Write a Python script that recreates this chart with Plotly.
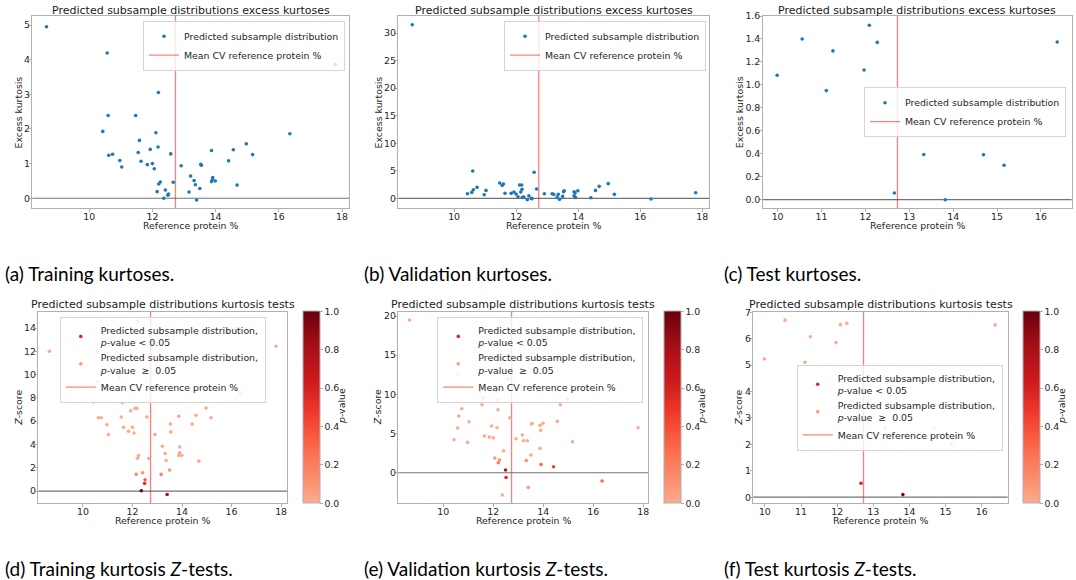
import math
import plotly.graph_objects as go

# ---------------- data ----------------
ref_x = [8.65, 10.43, 10.57, 10.60, 10.62, 10.74, 10.97, 11.03, 11.47, 11.55, 11.59, 11.64,
         11.84, 11.93, 12.00, 12.06, 12.11, 12.15, 12.18, 12.19, 12.20, 12.25, 12.36, 12.41,
         12.49, 12.51, 12.58, 12.66, 12.91, 13.16, 13.21, 13.32, 13.36, 13.40, 13.50, 13.53,
         13.55, 13.87, 13.87, 13.90, 13.91, 13.99, 14.41, 14.56, 14.68, 14.97, 15.17, 16.35, 17.79]

train_kurt = [4.95, 1.93, 4.19, 2.39, 1.24, 1.27, 1.09, 0.90, 2.39, 1.32, 1.67, 1.07,
              0.97, 1.41, 1.00, 0.85, 1.89, 0.19, 1.48, 3.05, 0.41, 0.47, 0.00, 0.24,
              0.09, 0.12, 1.28, 0.46, 0.94, 0.18, 0.64, 0.51, 0.39, -0.05, 0.28, 0.98,
              0.95, 1.38, 0.48, 0.54, 0.60, 0.50, 1.08, 1.40, 0.38, 1.57, 1.26, 1.86, 3.86]

train_z = [12.0, 7.64, 11.95, 9.38, 6.30, 6.30, 5.70, 4.85, 9.75, 6.36, 7.59, 5.48,
           5.13, 6.90, 5.48, 4.99, 7.10, 1.45, 7.10, 14.57, 2.82, 3.05, 0.03, 1.57,
           0.66, 0.97, 6.36, 2.80, 4.85, 1.43, 3.85, 3.22, 2.62, -0.29, 1.80, 5.76,
           5.08, 6.42, 3.05, 3.28, 3.79, 3.08, 5.76, 6.50, 2.57, 7.13, 6.30, 8.44, 12.44]

val_kurt = [31.5, 0.85, 1.09, 4.97, 1.58, 2.00, 0.67, 1.45, 2.79, 2.36, 2.60, 0.91,
            0.91, 1.15, 0.79, 0.30, 2.42, 1.15, 2.42, 1.64, 0.18, 0.24, -0.24, 0.48,
            0.00, -0.06, 4.73, 1.70, 0.85, 0.85, 0.73, 0.24, 0.73, -0.18, 0.36, 1.21,
            1.39, 1.21, 0.48, 0.97, 0.18, 1.39, 0.12, 1.45, 2.18, 2.67, 0.73, -0.12, 1.03]

val_z = [19.5, 4.21, 5.70, 12.5, 7.23, 8.17, 3.87, 6.51, 10.3, 8.68, 9.53, 4.68,
         4.55, 5.96, 4.47, 1.87, 10.38, 5.74, 9.28, 8.04, 1.28, 1.62, -2.85, 2.81,
         0.34, -0.60, 12.0, 7.02, 4.34, 4.81, 4.09, 1.57, 4.09, -1.87, 2.26, 6.21,
         6.30, 6.04, 3.11, 5.40, 1.06, 6.30, 0.77, 6.55, 8.68, 9.36, 3.96, -1.06, 5.74]

test_x = [9.99, 10.56, 11.11, 11.26, 11.97, 12.09, 12.27, 12.66, 13.33, 13.82, 14.69, 15.16, 16.37]
test_kurt = [1.084, 1.40, 0.95, 1.296, 1.13, 1.52, 1.37, 0.058, 0.394, 0.0, 0.391, 0.30, 1.374]
test_z = [5.23, 6.70, 5.11, 6.07, 5.85, 6.53, 6.58, 0.53, 2.6, 0.10, 2.6, 2.03, 6.52]

mean_cv_ref = 12.73

top_title = "Predicted subsample distributions excess kurtoses"
bot_title = "Predicted subsample distributions kurtosis tests"
x_label = "Reference protein %"
y_labels = ["Excess kurtosis"] * 3 + ["<i>Z</i>-score"] * 3
captions_top = ["(a) Training kurtoses.", "(b) Validation kurtoses.", "(c) Test kurtoses."]
captions_bot = ["(d) Training kurtosis <i>Z</i>-tests.", "(e) Validation kurtosis <i>Z</i>-tests.",
                "(f) Test kurtosis <i>Z</i>-tests."]


def pvals(zs):
    return [math.erfc(abs(z) / math.sqrt(2)) for z in zs]


# ---------------- layout geometry ----------------
W, H = 1076, 580
FONT = "DejaVu Sans"
FS = 9.4
BLUE = "#1f77b4"
LINE_RED = "rgba(255,0,0,0.5)"
FRAME = "#b0b0b0"
TXT = "#262626"

reds = [[0.0, "#fcab8e"], [0.107, "#fc9272"], [0.286, "#fb6a4a"], [0.464, "#ef3b2c"],
        [0.643, "#cb181d"], [0.821, "#a50f15"], [1.0, "#67000d"]]


def px_x(p):
    return p / W


def px_y(p):
    return 1 - p / H


panels = [
    dict(x=(32.3, 349.3), y=(16, 208.3), xr=[8.2, 18.23], yr=[-0.29, 5.26], xd=2, yd=1, yf=None, yl=18.3),
    dict(x=(398.3, 709.3), y=(16, 208.3), xr=[8.2, 18.23], yr=[-1.8, 33.1], xd=2, yd=5, yf=None, yl=378.3),
    dict(x=(762.7, 1071.7), y=(16, 208.3), xr=[9.66, 16.7], yr=[-0.075, 1.6], xd=1, yd=0.2, yf=".1f", yl=739),
    dict(x=(38.3, 287.3), y=(311.7, 503.3), xr=[8.2, 18.25], yr=[-1.05, 15.4], xd=2, yd=2, yf=None, yl=18.3),
    dict(x=(398.3, 648.3), y=(311.7, 503.3), xr=[8.2, 18.2], yr=[-3.9, 20.55], xd=2, yd=5, yf=None, yl=377.7),
    dict(x=(753.3, 1007.7), y=(311.7, 503.3), xr=[9.68, 16.72], yr=[-0.23, 7.02], xd=1, yd=1, yf=None, yl=738.3),
]

fig = go.Figure()
layout = dict(template="none", width=W, height=H, margin=dict(l=0, r=0, t=0, b=0, pad=0),
              autosize=False, paper_bgcolor="white", plot_bgcolor="white",
              font=dict(family=FONT, size=FS, color=TXT), showlegend=True, hovermode=False)

axis_common = dict(showline=True, mirror=True, linecolor=FRAME, linewidth=1,
                   ticks="outside", ticklen=2.5, tickwidth=1, tickcolor=FRAME, showgrid=False,
                   zeroline=False, automargin=False, ticklabelstandoff=-3,
                   tickfont=dict(family=FONT, size=FS, color=TXT))

annotations = []
shapes = []


def add_text(text, x, y, size=FS, family=FONT, color=TXT, xanchor="center", yanchor="middle", angle=0):
    annotations.append(dict(text=text, xref="paper", yref="paper", x=px_x(x), y=px_y(y),
                            xanchor=xanchor, yanchor=yanchor, showarrow=False, textangle=angle,
                            font=dict(family=family, size=size, color=color)))


for i, p in enumerate(panels):
    k = i + 1
    xa = "xaxis" if k == 1 else f"xaxis{k}"
    ya = "yaxis" if k == 1 else f"yaxis{k}"
    xref = "x" if k == 1 else f"x{k}"
    yref = "y" if k == 1 else f"y{k}"
    layout[xa] = dict(axis_common, domain=[px_x(p["x"][0]), px_x(p["x"][1])], anchor=yref,
                      range=p["xr"], dtick=p["xd"], tick0=0)
    yd = dict(axis_common, domain=[px_y(p["y"][1]), px_y(p["y"][0])], anchor=xref,
              range=p["yr"], dtick=p["yd"], tick0=0)
    if p["yf"]:
        yd["tickformat"] = p["yf"]
    layout[ya] = yd
    shapes.append(dict(type="line", xref=f"{xref} domain", yref=yref, x0=0, x1=1, y0=0, y1=0,
                       line=dict(color="rgba(0,0,0,0.55)", width=1.2), layer="below"))
    shapes.append(dict(type="line", xref=xref, yref=f"{yref} domain", x0=mean_cv_ref, x1=mean_cv_ref,
                       y0=0, y1=1, line=dict(color=LINE_RED, width=1.3), layer="below"))
    cx = (p["x"][0] + p["x"][1]) / 2
    cy = (p["y"][0] + p["y"][1]) / 2
    add_text(top_title if i < 3 else bot_title, cx, p["y"][0] - (5.5 if i < 3 else 7),
             size=11, color="#1a1a1a")
    add_text(x_label, cx, p["y"][1] + 17.5)
    add_text(y_labels[i], p["yl"], cy, angle=-90)

legend_names = ["legend", "legend2", "legend3", "legend4", "legend5", "legend6"]
legend_pos = [
    dict(x=px_x(345), y=px_y(20.7), xanchor="right", yanchor="top"),
    dict(x=px_x(706), y=px_y(20.7), xanchor="right", yanchor="top"),
    dict(x=px_x(1066), y=px_y(112.2), xanchor="right", yanchor="middle"),
    dict(x=px_x(162.8), y=px_y(316.7), xanchor="center", yanchor="top"),
    dict(x=px_x(643.3), y=px_y(316.7), xanchor="right", yanchor="top"),
    dict(x=px_x(1002.7), y=px_y(407.5), xanchor="right", yanchor="middle"),
]
for name, pos in zip(legend_names, legend_pos):
    layout[name] = dict(pos, bgcolor="rgba(255,255,255,0.8)", bordercolor="#d5d5d5", borderwidth=1,
                        font=dict(family=FONT, size=FS, color=TXT), traceorder="normal",
                        itemwidth=30, tracegroupgap=0)

# ---------------- top row ----------------
top_sets = [(ref_x, train_kurt), (ref_x, val_kurt), (test_x, test_kurt)]
for i, (xs, ys) in enumerate(top_sets):
    k = i + 1
    xref = "x" if k == 1 else f"x{k}"
    yref = "y" if k == 1 else f"y{k}"
    fig.add_trace(go.Scatter(x=xs, y=ys, mode="markers", xaxis=xref, yaxis=yref,
                             marker=dict(color=BLUE, size=3.6),
                             name="Predicted subsample distribution", legend=legend_names[i]))
    fig.add_trace(go.Scatter(x=[None], y=[None], mode="lines", xaxis=xref, yaxis=yref,
                             line=dict(color=LINE_RED, width=1.3),
                             name="Mean CV reference protein %", legend=legend_names[i]))

# ---------------- bottom row ----------------
bot_sets = [(ref_x, train_z), (ref_x, val_z), (test_x, test_z)]
cbar_left = [303, 663.5, 1022.5]
cbar_title_x = [341, 701, 1061]
for i, (xs, zs) in enumerate(bot_sets):
    k = i + 4
    xref = f"x{k}"
    yref = f"y{k}"
    lg = legend_names[i + 3]
    pv = pvals(zs)
    fig.add_trace(go.Scatter(x=[None], y=[None], mode="markers", xaxis=xref, yaxis=yref,
                             marker=dict(color="#de2a24", size=3.6),
                             name="Predicted subsample distribution,<br><i>p</i>-value < 0.05",
                             legend=lg))
    fig.add_trace(go.Scatter(x=[None], y=[None], mode="markers", xaxis=xref, yaxis=yref,
                             marker=dict(color="#fc9c7c", size=3.6),
                             name="Predicted subsample distribution,<br><i>p</i>-value  ≥  0.05",
                             legend=lg))
    fig.add_trace(go.Scatter(x=[None], y=[None], mode="lines", xaxis=xref, yaxis=yref,
                             line=dict(color=LINE_RED, width=1.3),
                             name="Mean CV reference protein %", legend=lg))
    fig.add_trace(go.Scatter(
        x=xs, y=zs, mode="markers", xaxis=xref, yaxis=yref, showlegend=False,
        marker=dict(color=pv, cmin=0, cmax=1, colorscale=reds, size=3.6, showscale=True,
                    colorbar=dict(x=px_x(cbar_left[i]), xanchor="left", xref="paper",
                                  y=px_y(503.3), yanchor="bottom", yref="paper",
                                  len=(503.3 - 311.7) / H, lenmode="fraction",
                                  thickness=17, thicknessmode="pixels", xpad=0, ypad=0,
                                  outlinewidth=1, outlinecolor=FRAME, borderwidth=0,
                                  tickvals=[0, 0.2, 0.4, 0.6, 0.8, 1.0], tickformat=".1f",
                                  ticks="outside", ticklen=2.5, tickcolor=FRAME,
                                  tickfont=dict(family=FONT, size=FS, color=TXT)))))
    add_text("<i>p</i>-value", cbar_title_x[i], 406, angle=-90)

# ---------------- captions ----------------
cap_x = [3.3, 362, 722]
for i in range(3):
    add_text(captions_top[i], cap_x[i], 273, size=19, family="Lato", color="black", xanchor="left")
    add_text(captions_bot[i], cap_x[i], 568, size=19, family="Lato", color="black", xanchor="left")

layout["annotations"] = annotations
layout["shapes"] = shapes
fig.update_layout(**layout)
fig.write_html("out.html", config={"displayModeBar": False},
               post_script="document.body.style.margin='0';document.body.style.overflow='hidden';")
